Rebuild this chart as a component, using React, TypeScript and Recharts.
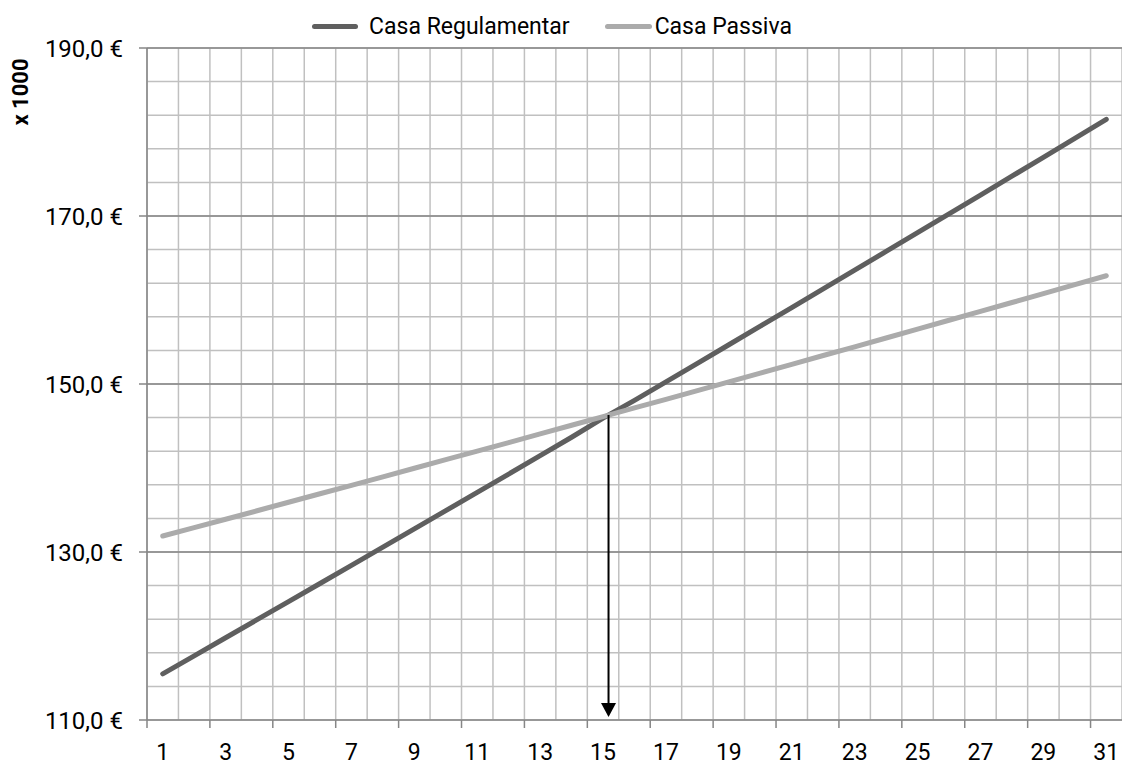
import React from 'react';
import { LineChart, Line, XAxis, YAxis, CartesianGrid, ReferenceLine, Legend } from 'recharts';

// Years of the comparison
const years = [1, 2, 3, 4, 5, 6, 7, 8, 9, 10, 11, 12, 13, 14, 15, 16, 17, 18, 19, 20, 21, 22, 23, 24, 25, 26, 27, 28, 29, 30, 31];

// Accumulated cost (thousands of €)
const casaRegulamentar = [
  115.5, 117.64, 119.79, 121.94, 124.09, 126.25, 128.41, 130.58, 132.75, 134.92,
  137.1, 139.28, 141.47, 143.66, 145.93, 148.05, 150.25, 152.46, 154.67, 156.88,
  159.1, 161.32, 163.55, 165.78, 168.01, 170.25, 172.49, 174.74, 176.99, 179.24, 181.5,
];
const casaPassiva = [
  131.9, 132.9, 133.9, 134.91, 135.92, 136.93, 137.94, 138.95, 139.97, 140.99,
  142.01, 143.03, 144.06, 145.09, 146.12, 147.15, 148.18, 149.22, 150.26, 151.3,
  152.34, 153.39, 154.43, 155.48, 156.53, 157.59, 158.64, 159.7, 160.76, 161.83, 162.89,
];

const seriesNames = ['Casa Regulamentar', 'Casa Passiva'];
const seriesColors = ['#5f5f5f', '#ababab'];

// Axis ticks and grid values
const xLabelTicks = [1, 3, 5, 7, 9, 11, 13, 15, 17, 19, 21, 23, 25, 27, 29, 31];
const xMarkTicks = [0.5, 2.5, 4.5, 6.5, 8.5, 10.5, 12.5, 14.5, 16.5, 18.5, 20.5, 22.5, 24.5, 26.5, 28.5, 30.5];
const xGridValues = [0.5, 1.5, 2.5, 3.5, 4.5, 5.5, 6.5, 7.5, 8.5, 9.5, 10.5, 11.5, 12.5, 13.5, 14.5, 15.5,
  16.5, 17.5, 18.5, 19.5, 20.5, 21.5, 22.5, 23.5, 24.5, 25.5, 26.5, 27.5, 28.5, 29.5, 30.5, 31.5];
const yMajorTicks = [110, 130, 150, 170, 190];
const yMinorValues = [110, 114, 118, 122, 126, 130, 134, 138, 142, 146, 150, 154, 158, 162, 166, 170, 174, 178, 182, 186, 190];

const data = years.map((year, i) => ({
  year,
  regulamentar: casaRegulamentar[i],
  passiva: casaPassiva[i],
}));

// Break-even point: where the two cost curves meet
function findCrossing() {
  for (let i = 0; i < years.length - 1; i++) {
    const d0 = casaRegulamentar[i] - casaPassiva[i];
    const d1 = casaRegulamentar[i + 1] - casaPassiva[i + 1];
    if (d0 <= 0 && d1 > 0) {
      const t = -d0 / (d1 - d0);
      return {
        x: years[i] + t * (years[i + 1] - years[i]),
        y: casaRegulamentar[i] + t * (casaRegulamentar[i + 1] - casaRegulamentar[i]),
      };
    }
  }
  return { x: years[0], y: casaRegulamentar[0] };
}
const crossing = findCrossing();

const FONT = 'Roboto, "Open Sans", sans-serif';
const AXIS = '#868686';
const GRID = '#c0c0c0';

const formatEuro = (v: number) => `${v.toFixed(1).replace('.', ',')} €`;

const XTick = (props: any) => {
  const { x, y, payload } = props;
  const v = payload.value;
  if (xMarkTicks.includes(v)) {
    return <line x1={x} y1={y} x2={x} y2={y + 8} stroke={AXIS} strokeWidth={1.5} />;
  }
  return (
    <text x={x} y={y + 24} dy="0.71em" textAnchor="middle" fill="#000" fontSize={23} fontFamily={FONT}>
      {v}
    </text>
  );
};

const YTitle = (props: any) => {
  const vb = props.viewBox || { x: 0, y: 48 };
  const cx = vb.x + 20.5;
  const cy = vb.y + 44;
  return (
    <text
      x={cx}
      y={cy}
      transform={`rotate(-90 ${cx} ${cy})`}
      textAnchor="middle"
      dominantBaseline="central"
      fontWeight="bold"
      fontSize={22}
      fill="#000"
      fontFamily={FONT}
    >
      x 1000
    </text>
  );
};

const ArrowShape = (props: any) => {
  const { x1, y1, x2, y2 } = props;
  const tipY = y2 - 3;
  return (
    <g>
      <line x1={x1} y1={y1} x2={x2} y2={tipY - 12} stroke="#000" strokeWidth={2} />
      <polygon points={`${x2 - 7.5},${tipY - 14} ${x2 + 7.5},${tipY - 14} ${x2},${tipY}`} fill="#000" />
    </g>
  );
};

const LegendContent = () => (
  <div
    style={{
      width: 1122,
      height: 48,
      boxSizing: 'border-box',
      display: 'flex',
      justifyContent: 'center',
      alignItems: 'flex-start',
      paddingTop: 15,
      paddingRight: 18,
      fontFamily: FONT,
      fontSize: 23,
      lineHeight: '23px',
      color: '#000',
    }}
  >
    <div style={{ display: 'flex', alignItems: 'center' }}>
      <div style={{ width: 46, height: 5, borderRadius: 3, background: seriesColors[0], marginRight: 11 }} />
      <span>{seriesNames[0]}</span>
    </div>
    <div style={{ display: 'flex', alignItems: 'center', marginLeft: 35 }}>
      <div style={{ width: 47, height: 5, borderRadius: 3, background: seriesColors[1], marginRight: 3 }} />
      <span>{seriesNames[1]}</span>
    </div>
  </div>
);

export default function App() {
  return (
    <div style={{ position: 'absolute', left: 0, top: 0, width: 1122, height: 767, background: '#fff', fontFamily: FONT }}>
      <LineChart width={1122} height={767} data={data} margin={{ top: 0, right: 0, bottom: 0, left: 0 }}>
        <Legend verticalAlign="top" align="center" height={48} content={<LegendContent />} wrapperStyle={{ left: 0, top: 0 }} />
        <CartesianGrid
          stroke={GRID}
          strokeWidth={1.5}
          horizontalValues={yMinorValues}
          verticalValues={xGridValues}
        />
        {yMajorTicks.slice(1).map((v) => (
          <ReferenceLine key={v} y={v} stroke={AXIS} strokeWidth={1.5} />
        ))}
        <XAxis
          dataKey="year"
          type="number"
          domain={[0.5, 31.5]}
          ticks={[...xMarkTicks, ...xLabelTicks].sort((a, b) => a - b)}
          interval={0}
          height={47}
          tickSize={0}
          tickMargin={0}
          tickLine={false}
          axisLine={{ stroke: AXIS, strokeWidth: 1.5 }}
          tick={<XTick />}
          allowDataOverflow
        />
        <YAxis
          type="number"
          domain={[110, 190]}
          ticks={yMajorTicks}
          interval={0}
          width={147}
          tickSize={8}
          tickMargin={16}
          tickFormatter={formatEuro}
          axisLine={{ stroke: AXIS, strokeWidth: 1.5 }}
          tickLine={{ stroke: AXIS, strokeWidth: 1.5 }}
          tick={{ fill: '#000', fontSize: 24, fontFamily: FONT }}
          label={<YTitle />}
          allowDataOverflow
        />
        <Line
          type="linear"
          dataKey="regulamentar"
          name={seriesNames[0]}
          stroke={seriesColors[0]}
          strokeWidth={5}
          strokeLinecap="round"
          dot={false}
          activeDot={false}
          isAnimationActive={false}
        />
        <Line
          type="linear"
          dataKey="passiva"
          name={seriesNames[1]}
          stroke={seriesColors[1]}
          strokeWidth={5}
          strokeLinecap="round"
          dot={false}
          activeDot={false}
          isAnimationActive={false}
        />
        <ReferenceLine
          segment={[
            { x: crossing.x, y: crossing.y },
            { x: crossing.x, y: 110 },
          ]}
          ifOverflow="visible"
          shape={<ArrowShape />}
        />
      </LineChart>
    </div>
  );
}
